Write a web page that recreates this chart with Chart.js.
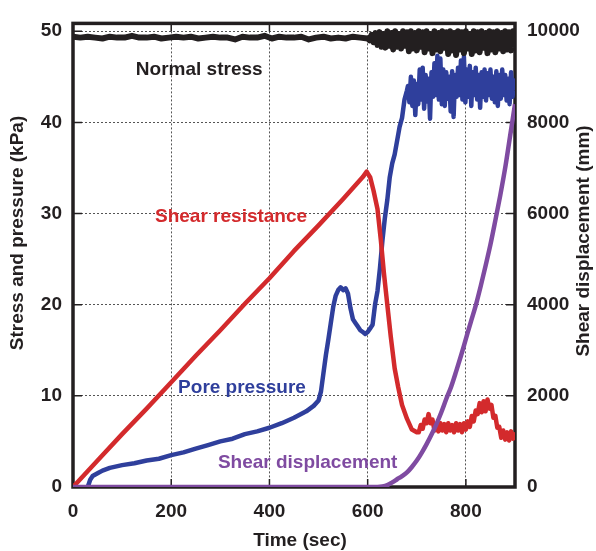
<!DOCTYPE html>
<html><head><meta charset="utf-8">
<script src="https://cdn.jsdelivr.net/npm/chart.js@4.4.0/dist/chart.umd.min.js"></script>
<style>html,body{margin:0;padding:0;background:#fff;}</style>
</head><body>
<canvas id="c" width="596" height="551"></canvas>
<script>
// ---- Data ----
const xTicks = [0, 200, 400, 600, 800];
const yTicks = [0, 10, 20, 30, 40, 50];
const y2Ticks = [0, 2000, 4000, 6000, 8000, 10000];

const normalTime = [0,15,30,45,60,75,90,105,120,135,150,165,180,195,210,225,240,255,270,285,300,315,330,345,360,375,390,405,420,435,450,465,480,495,510,525,540,555,570,585,600,
604,608,612,616,620,624,628,632,636,640,644,648,652,656,660,664,668,672,676,680,684,688,692,696,700,704,708,712,716,720,724,728,732,736,740,744,748,752,756,760,764,768,772,776,780,784,788,792,796,800,804,808,812,816,820,824,828,832,836,840,844,848,852,856,860,864,868,872,876,880,884,888,892,896,900];
const normalStress = [49.4,49.3,49.4,49.3,49.2,49.4,49.3,49.3,49.5,49.3,
49.3,49.4,49.2,49.3,49.4,49.3,49.4,49.2,49.3,49.4,
49.3,49.3,49.1,49.4,49.3,49.3,49.5,49.2,49.4,49.3,
49.3,49.4,49.1,49.3,49.4,49.2,49.3,49.2,49.4,49.3,49.2,
49.0,49.6,48.8,49.8,48.5,49.9,48.3,49.7,48.2,50.0,48.4,49.8,48.0,50.0,48.3,49.7,48.1,50.0,48.4,49.9,
47.8,50.0,48.1,49.8,47.9,50.0,48.3,49.9,47.7,50.0,48.1,49.7,47.6,50.0,48.0,49.8,47.8,50.0,48.2,49.9,
47.5,50.0,47.9,49.8,47.4,50.0,48.0,49.9,47.6,50.0,48.1,49.7,47.5,50.0,47.9,49.9,47.7,50.0,48.2,49.8,
47.6,50.0,48.0,49.9,47.7,50.0,48.1,49.8,47.8,50.0,48.0,49.9,47.9,50.0,48.2];

const shearTime = [0,50,100,150,200,250,300,350,400,450,500,550,590,598,605,612,620,627,633,640,647,655,662,670,680,690,700,
704,708,712,716,720,724,728,732,736,740,744,748,752,756,760,764,768,772,776,780,784,788,792,796,800,
804,808,812,816,820,824,828,832,836,840,844,848,852,856,860,864,868,872,876,880,884,888,892,896,900];
const shearResistance = [0,2.9,5.8,8.6,11.5,14.4,17.2,20.1,22.9,25.9,28.7,31.6,
34.0,34.6,34.0,32.5,30.5,27.0,23.5,20.0,16.5,13.0,11.0,9.0,7.5,6.3,6.0,
6.0,6.8,6.4,7.4,7.0,8.0,7.0,7.4,6.2,6.9,
6.1,7.0,6.2,6.9,6.0,7.0,6.2,6.8,6.0,7.0,
6.2,6.9,6.0,7.0,6.3,7.2,6.6,7.8,7.2,8.4,
8.0,9.2,8.2,9.4,8.3,9.6,8.6,9.0,7.6,7.8,
6.5,6.6,5.4,6.2,5.2,6.0,5.1,6.1,5.3,6.0];

const poreTime = [30,35,40,50,60,75,100,125,150,175,200,225,250,275,300,325,350,375,400,425,450,475,490,500,505,510,515,520,525,530,535,540,545,550,555,560,565,570,575,580,585,590,595,600,605,610,615,620,625,630,635,640,645,650,655,660,665,670,675,680,
682,685,688,691,694,697,700,703,706,709,712,715,718,721,724,727,730,733,736,739,742,745,748,751,754,757,760,763,766,769,
772,775,778,781,784,787,790,793,796,799,802,805,808,811,814,817,820,823,826,829,832,835,838,841,844,847,850,853,856,859,
862,865,868,871,874,877,880,883,886,889,892,895,898,900];
const porePressure = [0,0.8,1.2,1.5,1.8,2.1,2.4,2.6,2.9,3.1,3.5,3.8,4.2,4.6,5.0,5.3,5.8,6.1,6.5,7.0,
7.6,8.3,8.9,9.5,10.5,12.5,14.5,16.2,18.0,19.8,21.0,21.6,21.9,21.6,21.8,21.2,19.6,18.4,18.0,17.6,
17.2,17.0,16.8,17.0,17.4,17.8,20.0,21.5,24.0,27.0,29.5,31.5,34.0,35.5,36.5,38.0,39.5,40.5,42.5,43.5,
44.0,42.2,45.0,41.8,44.6,40.8,44.2,42.0,45.8,42.5,46.0,41.5,45.2,42.3,44.8,40.4,45.5,42.8,46.5,43.0,
47.3,42.5,47.0,42.0,45.8,41.8,45.5,42.6,45.0,41.2,45.6,40.6,45.2,42.8,46.0,43.0,46.8,42.5,47.2,42.2,
45.8,42.8,46.2,41.8,45.5,43.0,46.0,42.5,45.2,41.6,45.5,42.8,45.8,42.4,45.4,43.0,45.8,42.6,45.0,42.2,
45.6,41.8,45.2,42.6,45.8,43.0,45.2,42.4,44.8,42.0,45.5,42.8,44.6,43.5];

const dispTime = [0,620,630,640,650,660,670,680,690,700,710,720,730,740,750,760,770,780,790,800,810,820,830,840,850,860,870,880,890,900];
const shearDisplacement = [0,0,10,40,100,170,240,320,440,580,750,940,1150,1380,1640,1930,2200,2530,2880,3250,3620,3980,4400,4850,5320,5850,6400,7000,7700,8400];

const seriesLabels = ['Normal stress', 'Shear resistance', 'Pore pressure', 'Shear displacement'];

// ---- Styling / layout ----
const FONT = "'Liberation Sans', Arial, Helvetica, sans-serif";
const TXT = '#231f20';
const COLORS = { normal: '#231f20', shear: '#d32a2c', pore: '#2f3f9c', disp: '#7f4ba1' };

// annotation placement (data coordinates of text's left/middle)
const annotations = [
  { text: seriesLabels[0], x: 128, y: 45.8, color: COLORS.normal },
  { text: seriesLabels[1], x: 167, y: 29.7, color: COLORS.shear },
  { text: seriesLabels[2], x: 214, y: 10.9, color: COLORS.pore },
  { text: seriesLabels[3], x: 295, y: 2.7, color: COLORS.disp }
];

const toXY = (xs, ys) => xs.map((x, i) => ({ x: x, y: ys[i] }));

const gridOpts = { color: '#555', lineWidth: 1, drawTicks: false };

const framePlugin = {
  id: 'frame',
  beforeDatasetsDraw(chart) {
    const { ctx, chartArea: a, scales } = chart;
    ctx.save();
    ctx.strokeStyle = '#231f20';
    ctx.lineWidth = 1.5;
    ctx.beginPath();
    xTicks.forEach(v => {
      const px = scales.x.getPixelForValue(v);
      ctx.moveTo(px, a.bottom); ctx.lineTo(px, a.bottom - 8);
      ctx.moveTo(px, a.top); ctx.lineTo(px, a.top + 8);
    });
    yTicks.forEach(v => {
      const py = scales.y.getPixelForValue(v);
      ctx.moveTo(a.left, py); ctx.lineTo(a.left + 9, py);
      ctx.moveTo(a.right, py); ctx.lineTo(a.right - 9, py);
    });
    ctx.stroke();
    ctx.lineWidth = 3.5;
    ctx.strokeRect(a.left, a.top, a.right - a.left, a.bottom - a.top);
    ctx.restore();
  },
  afterDatasetsDraw(chart) {
    const { ctx, scales } = chart;
    ctx.save();
    ctx.font = 'bold 19px ' + FONT;
    ctx.textAlign = 'left';
    ctx.textBaseline = 'middle';
    annotations.forEach(an => {
      ctx.fillStyle = an.color;
      ctx.fillText(an.text, scales.x.getPixelForValue(an.x), scales.y.getPixelForValue(an.y));
    });
    ctx.restore();
  },
  afterDraw(chart) {
    const { ctx } = chart;
    ctx.save();
    ctx.font = 'bold 19px ' + FONT;
    ctx.fillStyle = TXT;
    ctx.textAlign = 'center';
    ctx.textBaseline = 'middle';
    ctx.fillText('Time (sec)', 300, 541);
    ctx.save(); ctx.translate(18, 233); ctx.rotate(-Math.PI / 2);
    ctx.fillText('Stress and pressure (kPa)', 0, 0); ctx.restore();
    ctx.save(); ctx.translate(584, 241); ctx.rotate(-Math.PI / 2);
    ctx.fillText('Shear displacement (mm)', 0, 0); ctx.restore();
    ctx.restore();
  }
};

const lineBase = { pointRadius: 0, borderJoinStyle: 'round', borderCapStyle: 'butt' };

new Chart(document.getElementById('c'), {
  type: 'line',
  data: {
    datasets: [
      Object.assign({ label: seriesLabels[0], data: toXY(normalTime, normalStress), yAxisID: 'y', borderColor: COLORS.normal, borderWidth: 6, order: 0 }, lineBase),
      Object.assign({ label: seriesLabels[3], data: toXY(dispTime, shearDisplacement), yAxisID: 'y2', borderColor: COLORS.disp, borderWidth: 4.5, cubicInterpolationMode: 'monotone', order: 1 }, lineBase),
      Object.assign({ label: seriesLabels[1], data: toXY(shearTime, shearResistance), yAxisID: 'y', borderColor: COLORS.shear, borderWidth: 4.5, order: 2 }, lineBase),
      Object.assign({ label: seriesLabels[2], data: toXY(poreTime, porePressure), yAxisID: 'y', borderColor: COLORS.pore, borderWidth: 4.5, order: 3 }, lineBase)
    ]
  },
  options: {
    responsive: false,
    animation: false,
    devicePixelRatio: 1,
    layout: { padding: { top: 14, left: 0, right: 0, bottom: 0 } },
    plugins: { legend: { display: false }, tooltip: { enabled: false } },
    elements: { line: { tension: 0 } },
    scales: {
      x: {
        type: 'linear', position: 'bottom', min: 0, max: 900,
        afterBuildTicks: s => { s.ticks = xTicks.map(v => ({ value: v })); },
        afterFit: s => { s.height = 64; },
        ticks: { font: { size: 19, weight: 'bold', family: FONT }, color: TXT, padding: 13, maxRotation: 0, callback: v => String(v) },
        grid: Object.assign({}, gridOpts),
        border: { display: false, dash: [2, 2] }
      },
      y: {
        type: 'linear', position: 'left', min: 0, max: 50.86,
        afterBuildTicks: s => { s.ticks = yTicks.map(v => ({ value: v })); },
        afterFit: s => { s.width = 73; },
        ticks: { font: { size: 19, weight: 'bold', family: FONT }, color: TXT, padding: 11, callback: v => String(v) },
        grid: Object.assign({}, gridOpts),
        border: { display: false, dash: [2, 2] }
      },
      y2: {
        type: 'linear', position: 'right', min: 0, max: 10172,
        afterBuildTicks: s => { s.ticks = y2Ticks.map(v => ({ value: v })); },
        afterFit: s => { s.width = 81; },
        ticks: { font: { size: 19, weight: 'bold', family: FONT }, color: TXT, padding: 12, callback: v => String(v) },
        grid: { display: false, drawTicks: false, drawOnChartArea: false },
        border: { display: false }
      }
    }
  },
  plugins: [framePlugin]
});
</script>
</body></html>
